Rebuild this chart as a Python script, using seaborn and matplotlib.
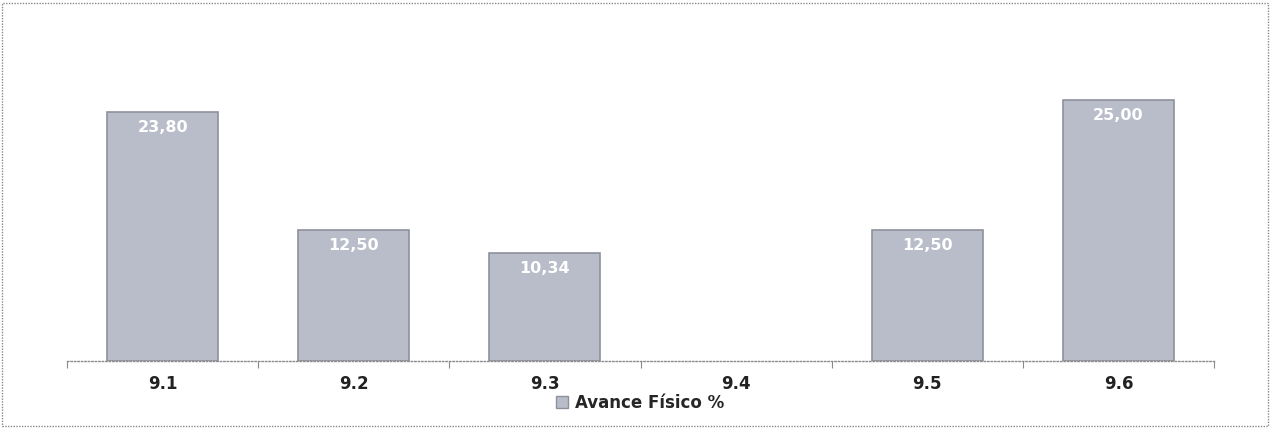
import matplotlib
matplotlib.use("Agg")
import matplotlib.pyplot as plt
import seaborn as sns
import pandas as pd
import numpy as np
from matplotlib.patches import Rectangle, Patch

categories = ["9.1", "9.2", "9.3", "9.4", "9.5", "9.6"]
values = [23.80, 12.50, 10.34, 0.0, 12.50, 25.00]
labels = ["23,80", "12,50", "10,34", "", "12,50", "25,00"]
series_name = "Avance Físico %"

sns.set_theme(style="white")
plt.rcParams['font.family'] = ['DejaVu Sans']

df = pd.DataFrame({"cat": categories, "val": values})

fig = plt.figure(figsize=(12.72, 4.28), dpi=100)
ax = fig.add_axes([67/1272, 1-361/428, (1214-67)/1272, (361-20)/428])

sns.barplot(data=df, x="cat", y="val", color="#b9bcc9", width=0.58,
            edgecolor="#8e909c", linewidth=1.2, saturation=1, ax=ax)
for p, v in zip(ax.patches, values):
    if v == 0:
        p.set_linewidth(0)
        p.set_visible(False)

ax.set_ylim(0, (361-20)/10.46)
ax.set_xlim(-0.5, len(categories)-0.5)
ax.set_yticks([])
ax.set_xlabel("")
ax.set_ylabel("")
for s in ["top", "right", "left"]:
    ax.spines[s].set_visible(False)
ax.spines["bottom"].set_color("#8a8a8a")
ax.spines["bottom"].set_linestyle((0, (1, 1.5)))
ax.spines["bottom"].set_linewidth(1.0)

ax.set_xticks(range(len(categories)))
ax.set_xticklabels(categories, fontsize=12, fontweight="bold", color="#222222")
ax.tick_params(axis="x", which="major", bottom=False, length=0, pad=10)
ax.set_xticks(np.arange(-0.5, len(categories), 1.0), minor=True)
ax.tick_params(axis="x", which="minor", bottom=True, length=5, color="#8a8a8a",
               width=0.8, direction="out")

for i, (v, lab) in enumerate(zip(values, labels)):
    if v > 0 and lab:
        ax.text(i, v - 1.5, lab, ha="center", va="center", color="white",
                fontsize=11.5, fontweight="bold")

handle = Patch(facecolor="#b9bcc9", edgecolor="#8e909c")
fig.legend([handle], [series_name], loc="center", bbox_to_anchor=(640/1272, 1-403/428),
           frameon=False, handlelength=0.7, handleheight=0.7,
           handletextpad=0.4, prop={"weight": "bold", "size": 12})

border = Rectangle((2/1272, 2/428), 1266/1272, 423/428, transform=fig.transFigure,
                   fill=False, edgecolor="#8a8a8a", linewidth=1.0, linestyle=(0, (1, 1)))
fig.patches.append(border)

fig.savefig("out.png", dpi=100)
